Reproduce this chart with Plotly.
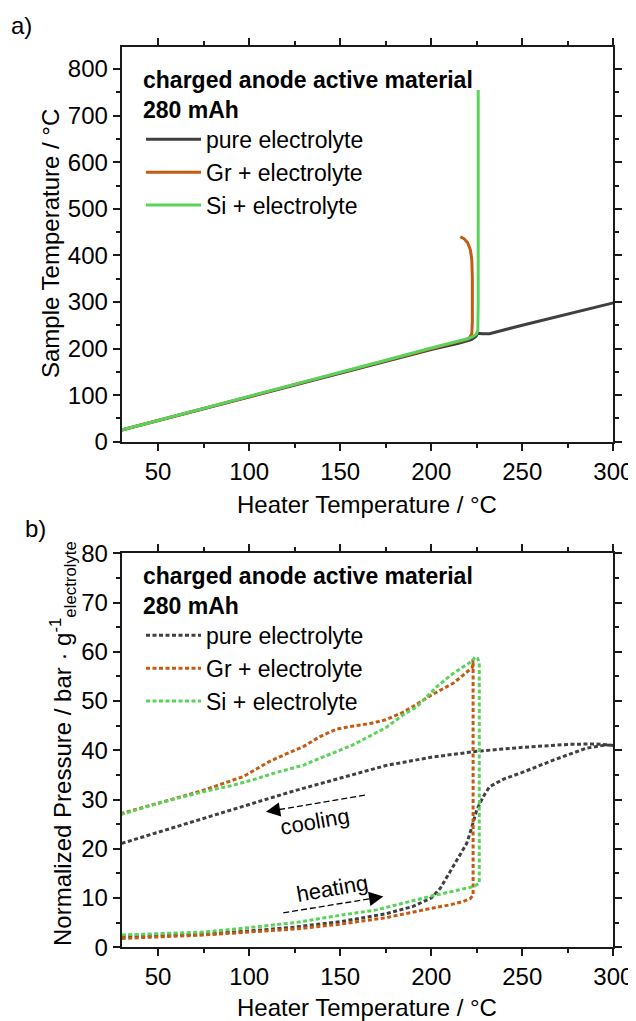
import plotly.graph_objects as go

# ---------------- data: panel a) sample vs heater temperature ----------------
pure_a_x = [30, 50, 75, 100, 125, 150, 175, 200, 215, 222, 224.5, 225.5, 228, 232, 250, 275, 300]
pure_a_y = [25, 45.5, 71, 96, 121.5, 147, 173, 198, 211, 219, 226, 233, 232, 232, 250, 274, 298]

gr_a_x = [30, 50, 75, 100, 125, 150, 175, 200, 215, 219, 221, 222.3, 222.6, 222.7, 222.6, 222.3, 221.5, 220, 218, 216]
gr_a_y = [25, 45.5, 71, 96.5, 122, 148, 174, 200, 214, 219, 223, 232, 260, 300, 350, 390, 412, 427, 436, 440]

si_a_x = [30, 50, 75, 100, 125, 150, 175, 200, 215, 220, 223, 224.8, 225.6, 225.8, 225.8, 225.8]
si_a_y = [25, 45.5, 71, 96.7, 122.5, 148.5, 175, 201, 215, 221, 226, 231, 240, 300, 500, 755]

# ---------------- data: panel b) normalized pressure vs heater temperature ----------------
pure_b_x = [30, 50, 75, 100, 125, 150, 175, 190, 200, 205, 212, 219.5, 222, 225, 228.6, 232, 240, 250, 267, 285, 296, 300,
            290, 275, 250, 225, 200, 175, 150, 125, 100, 75, 50, 30]
pure_b_y = [2.2, 2.4, 2.7, 3.3, 4.1, 5.2, 6.8, 8.3, 10.0, 12.0, 16.4, 21.1, 24.0, 27.9, 30.6, 32.6, 34.2, 35.5, 38.0, 40.4, 41.1, 41.0,
            41.3, 41.2, 40.6, 39.8, 38.6, 36.9, 34.4, 31.8, 29.0, 26.2, 23.3, 21.1]

gr_b_x = [30, 50, 75, 100, 125, 150, 175, 200, 210, 217.6, 221.5, 223, 223, 223, 222.6,
          212, 200, 190, 185, 175, 166, 155, 148, 139, 130, 120, 111, 97, 85, 75, 60, 47, 30]
gr_b_y = [1.8, 2.1, 2.5, 3.1, 3.7, 4.7, 6.0, 7.9, 8.6, 9.3, 9.9, 10.6, 30, 58.5, 56.8,
          53.6, 51.2, 48.9, 47.8, 46.2, 45.4, 44.8, 44.3, 42.8, 40.8, 39.2, 37.7, 34.7, 33.2, 31.9, 30.3, 28.9, 27.2]

si_b_x = [30, 50, 75, 100, 125, 150, 170, 200, 210, 223, 226.4, 226.4, 226.4, 225.5, 224.3,
          222, 212, 203, 192, 184.6, 175.5, 172, 166, 157, 139, 130, 115, 102, 90, 75, 60, 47, 30]
si_b_y = [2.5, 2.7, 3.1, 4.0, 5.0, 6.5, 7.6, 10.4, 11.2, 12.3, 13.0, 30, 57.7, 58.7, 59.0,
          58.0, 55.6, 52.9, 48.8, 47.2, 44.7, 44.0, 42.8, 41.1, 38.4, 37.0, 35.5, 34.0, 32.8, 31.6, 30.2, 28.9, 27.0]

series_names = ["pure electrolyte", "Gr + electrolyte", "Si + electrolyte"]
legend_title = "<b>charged anode active material<br>280 mAh</b>"

# ---------------- styling ----------------
FONT = "Liberation Sans, Arial, sans-serif"
FS = 24
LFS = 23
C_PURE = "#404040"
C_GR = "#C55A11"
C_SI = "#5AD35A"
AXC = "#1a1a1a"

W, H = 628, 1013       # page body has an 8 px margin
OFF = 8


def px(x):  # screen x -> paper
    return (x - OFF) / W


def py(y):  # screen y -> paper
    return 1 - (y - OFF) / H


XD = [px(121.7), px(613.3)]
YD_A = [py(441.7), py(46.7)]
YD_B = [py(947.3), py(553.3)]

fig = go.Figure()

for xs, ys, nm, c in [(pure_a_x, pure_a_y, series_names[0], C_PURE),
                      (gr_a_x, gr_a_y, series_names[1], C_GR),
                      (si_a_x, si_a_y, series_names[2], C_SI)]:
    fig.add_trace(go.Scatter(x=xs, y=ys, mode="lines", name=nm,
                             line=dict(color=c, width=3),
                             xaxis="x", yaxis="y", legend="legend"))

DOT = "4px,2.5px"
for xs, ys, nm, c in [(pure_b_x, pure_b_y, series_names[0], C_PURE),
                      (gr_b_x, gr_b_y, series_names[1], C_GR),
                      (si_b_x, si_b_y, series_names[2], C_SI)]:
    fig.add_trace(go.Scatter(x=xs, y=ys, mode="lines", name=nm,
                             line=dict(color=c, width=3, dash=DOT),
                             xaxis="x2", yaxis="y2", legend="legend2"))

tickfont = dict(family=FONT, size=FS, color="black")


def xax(anchor, domain):
    return dict(domain=domain, anchor=anchor, range=[30, 300], dtick=50, tick0=0,
                ticks="outside", ticklen=7, tickwidth=1.5, tickcolor=AXC,
                minor=dict(ticks="outside", ticklen=4, tickwidth=1.5, tickcolor=AXC, dtick=25, tick0=0),
                showgrid=False, zeroline=False, showticklabels=True, tickfont=tickfont,
                automargin=False, showline=True, linecolor=AXC, linewidth=2, mirror="ticks")


def yax(anchor, domain, rng, dt, mdt):
    return dict(domain=domain, anchor=anchor, range=rng, dtick=dt, tick0=0,
                ticks="outside", ticklen=7, tickwidth=1.5, tickcolor=AXC,
                minor=dict(ticks="outside", ticklen=4, tickwidth=1.5, tickcolor=AXC, dtick=mdt, tick0=0),
                showgrid=False, zeroline=False, showticklabels=True, tickfont=tickfont,
                automargin=False, showline=True, linecolor=AXC, linewidth=2, mirror="ticks")


legend_common = dict(bgcolor="rgba(0,0,0,0)", borderwidth=0, xanchor="left", yanchor="top",
                     font=dict(family=FONT, size=LFS, color="black"),
                     title=dict(text=legend_title, side="top", font=dict(family=FONT, size=LFS, color="black")),
                     itemwidth=55, tracegroupgap=0)

fig.update_layout(
    width=W, height=H,
    margin=dict(l=0, r=0, t=0, b=0),
    paper_bgcolor="white", plot_bgcolor="white",
    font=dict(family=FONT, size=FS, color="black"),
    xaxis=xax("y", XD),
    yaxis=yax("x", YD_A, [0, 848], 100, 50),
    xaxis2=xax("y2", XD),
    yaxis2=yax("x2", YD_B, [0, 80], 10, 5),
    legend=dict(x=133 / W, y=1 - 50 / H, **legend_common),
    legend2=dict(x=133 / W, y=1 - 546 / H, **legend_common),
    showlegend=True,
)

ann_font = dict(family=FONT, size=FS, color="black")
C = dict(xanchor="center", yanchor="middle", showarrow=False, xref="paper", yref="paper")
annotations = [
    dict(text="a)", x=px(22), y=py(25), font=ann_font, **C),
    dict(text="b)", x=px(36), y=py(528), font=ann_font, **C),
    dict(text="Heater Temperature / °C", x=px(367), y=py(504), font=ann_font, **C),
    dict(text="Heater Temperature / °C", x=px(367), y=py(1007), font=ann_font, **C),
    dict(text="Sample Temperature / °C", x=px(51), y=py(244), textangle=-90, font=ann_font, **C),
    dict(text="Normalized Pressure / bar · g<sup>-1</sup><sub>electrolyte</sub>", x=px(63), y=py(744),
         textangle=-90, font=ann_font, **C),
    dict(text="cooling", x=136.2, y=25.5, xref="x2", yref="y2", showarrow=False, textangle=-10,
         xanchor="center", yanchor="middle", font=dict(family=FONT, size=22, color="black")),
    dict(text="heating", x=145.3, y=12.0, xref="x2", yref="y2", showarrow=False, textangle=-10,
         xanchor="center", yanchor="middle", font=dict(family=FONT, size=22, color="black")),
    dict(text="", x=109.2, y=27.5, ax=109.2 + 54.4 * 0.12, ay=27.5 + 3.4 * 0.12, xref="x2", yref="y2",
         axref="x2", ayref="y2", showarrow=True, arrowhead=2, arrowsize=2.2, arrowwidth=1.3, arrowcolor="black",
         standoff=0),
    dict(text="", x=173.7, y=10.3, ax=173.7 - 55.0 * 0.12, ay=10.3 - 3.3 * 0.12, xref="x2", yref="y2",
         axref="x2", ayref="y2", showarrow=True, arrowhead=2, arrowsize=2.2, arrowwidth=1.3, arrowcolor="black",
         standoff=0),
]
fig.update_layout(annotations=annotations)

shapes = [
    dict(type="line", x0=163.6, y0=30.9, x1=112, y1=27.7, xref="x2", yref="y2",
         line=dict(color="black", width=1.3, dash="6px,3px")),
    dict(type="line", x0=118.7, y0=7.0, x1=170.5, y1=10.1, xref="x2", yref="y2",
         line=dict(color="black", width=1.3, dash="6px,3px")),
]
fig.update_layout(shapes=shapes)

fig.write_html("out.html")
